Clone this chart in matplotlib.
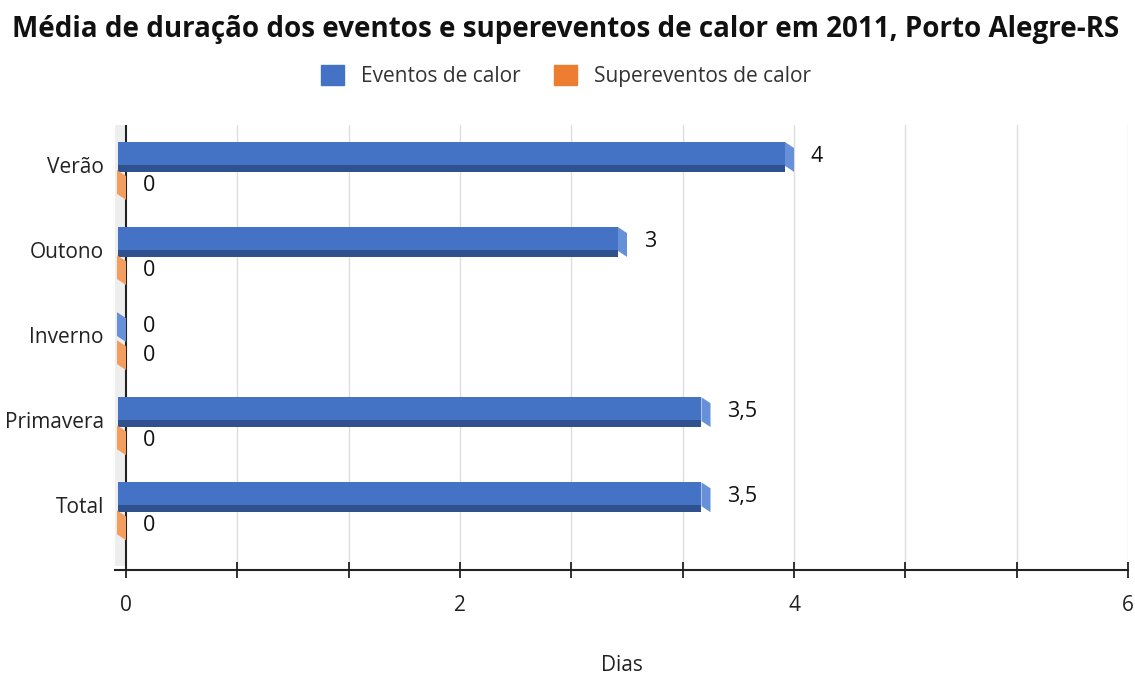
import numpy as np
import matplotlib.pyplot as plt
from matplotlib.patches import Patch

plt.rcParams['font.family'] = ['Open Sans', 'DejaVu Sans']

# data
estacoes = ['Verão', 'Outono', 'Inverno', 'Primavera', 'Total']
eventos = [4, 3, 0, 3.5, 3.5]
supereventos = [0, 0, 0, 0, 0]
rotulos_eventos = ['4', '3', '0', '3,5', '3,5']
rotulos_super = ['0', '0', '0', '0', '0']
x_ticks = [0, 2, 4, 6]

# colours: front, bottom (dark), end (light)
cores_azul = ('#4472C4', '#2F528F', '#6690D8')
cores_laranja = ('#ED7D31', '#AE5A21', '#F39D5E')

fig = plt.figure(figsize=(11.35, 6.74), dpi=100)
W, H = 1135, 674
ax = fig.add_axes([115 / W, 1 - 570 / H, (1128 - 115) / W, (570 - 125) / H])

x0 = -0.048   # 3d offset of the bar start
dx = 0.054    # depth of the bar end
y = np.arange(len(estacoes))

ax.set_xlim(-0.066, 6)
ax.set_ylim(4.76, -0.47)

# side wall and grid
ax.axvspan(-0.066, 0, ymin=0.01, color='#eeeeee', zorder=0, lw=0)
for g in np.arange(2 / 3, 6.01, 2 / 3):
    ax.axvline(g, color='#dedede', lw=1.0, zorder=0)
ax.axvline(0, color='#222222', lw=1.5, zorder=1)


def barras_3d(vals, topo, cores):
    frente, baixo, ponta = cores
    tops = y + topo
    larg = np.array(vals) - dx - x0
    larg = np.where(np.array(vals) > 0, larg, 0)
    ax.barh(tops + 0.135, larg, left=x0, height=0.27, color=frente, zorder=3)
    ax.barh(tops + 0.31, larg, left=x0, height=0.08, color=baixo, zorder=3)
    for v, t in zip(vals, tops):
        ax.fill([v - dx, v, v, v - dx], [t, t + 0.07, t + 0.35, t + 0.28],
                color=ponta, zorder=4, lw=0)


barras_3d(eventos, -0.27, cores_azul)
barras_3d(supereventos, 0.06, cores_laranja)

for v, yy, s in zip(eventos, y, rotulos_eventos):
    ax.text(v + 0.1, yy - 0.1, s, ha='left', va='center', fontsize=15.5, color='#111111')
for v, yy, s in zip(supereventos, y, rotulos_super):
    ax.text(v + 0.1, yy + 0.24, s, ha='left', va='center', fontsize=15.5, color='#111111')

for s in ['top', 'right', 'left']:
    ax.spines[s].set_visible(False)
ax.spines['bottom'].set_linewidth(1.5)
ax.spines['bottom'].set_color('#222222')

ax.set_xticks(np.arange(0, 6.01, 2 / 3), minor=True)
ax.set_xticks(x_ticks)
ax.set_xticklabels([str(t) for t in x_ticks], fontsize=15, color='#222222')
ax.tick_params(axis='x', which='both', direction='inout', length=12, width=1.3,
               color='#222222', pad=12)
ax.tick_params(axis='y', length=0, pad=8)
ax.set_yticks(y)
ax.set_yticklabels(estacoes, fontsize=15, color='#222222')
ax.set_xlabel('Dias', fontsize=15, color='#222222', labelpad=28)

fig.text(566 / W, 1 - 30 / H,
         'Média de duração dos eventos e supereventos de calor em 2011, Porto Alegre-RS',
         ha='center', va='center', fontsize=20, fontweight='bold', color='#111111')

handles = [Patch(color=cores_azul[0], label='Eventos de calor'),
           Patch(color=cores_laranja[0], label='Supereventos de calor')]
fig.legend(handles=handles, loc='center', bbox_to_anchor=(566 / W, 1 - 76 / H), ncol=2,
           frameon=False, fontsize=15, handlelength=1.1, handleheight=1.1,
           columnspacing=1.6, labelcolor='#333333')

fig.savefig('out.png', dpi=100)
